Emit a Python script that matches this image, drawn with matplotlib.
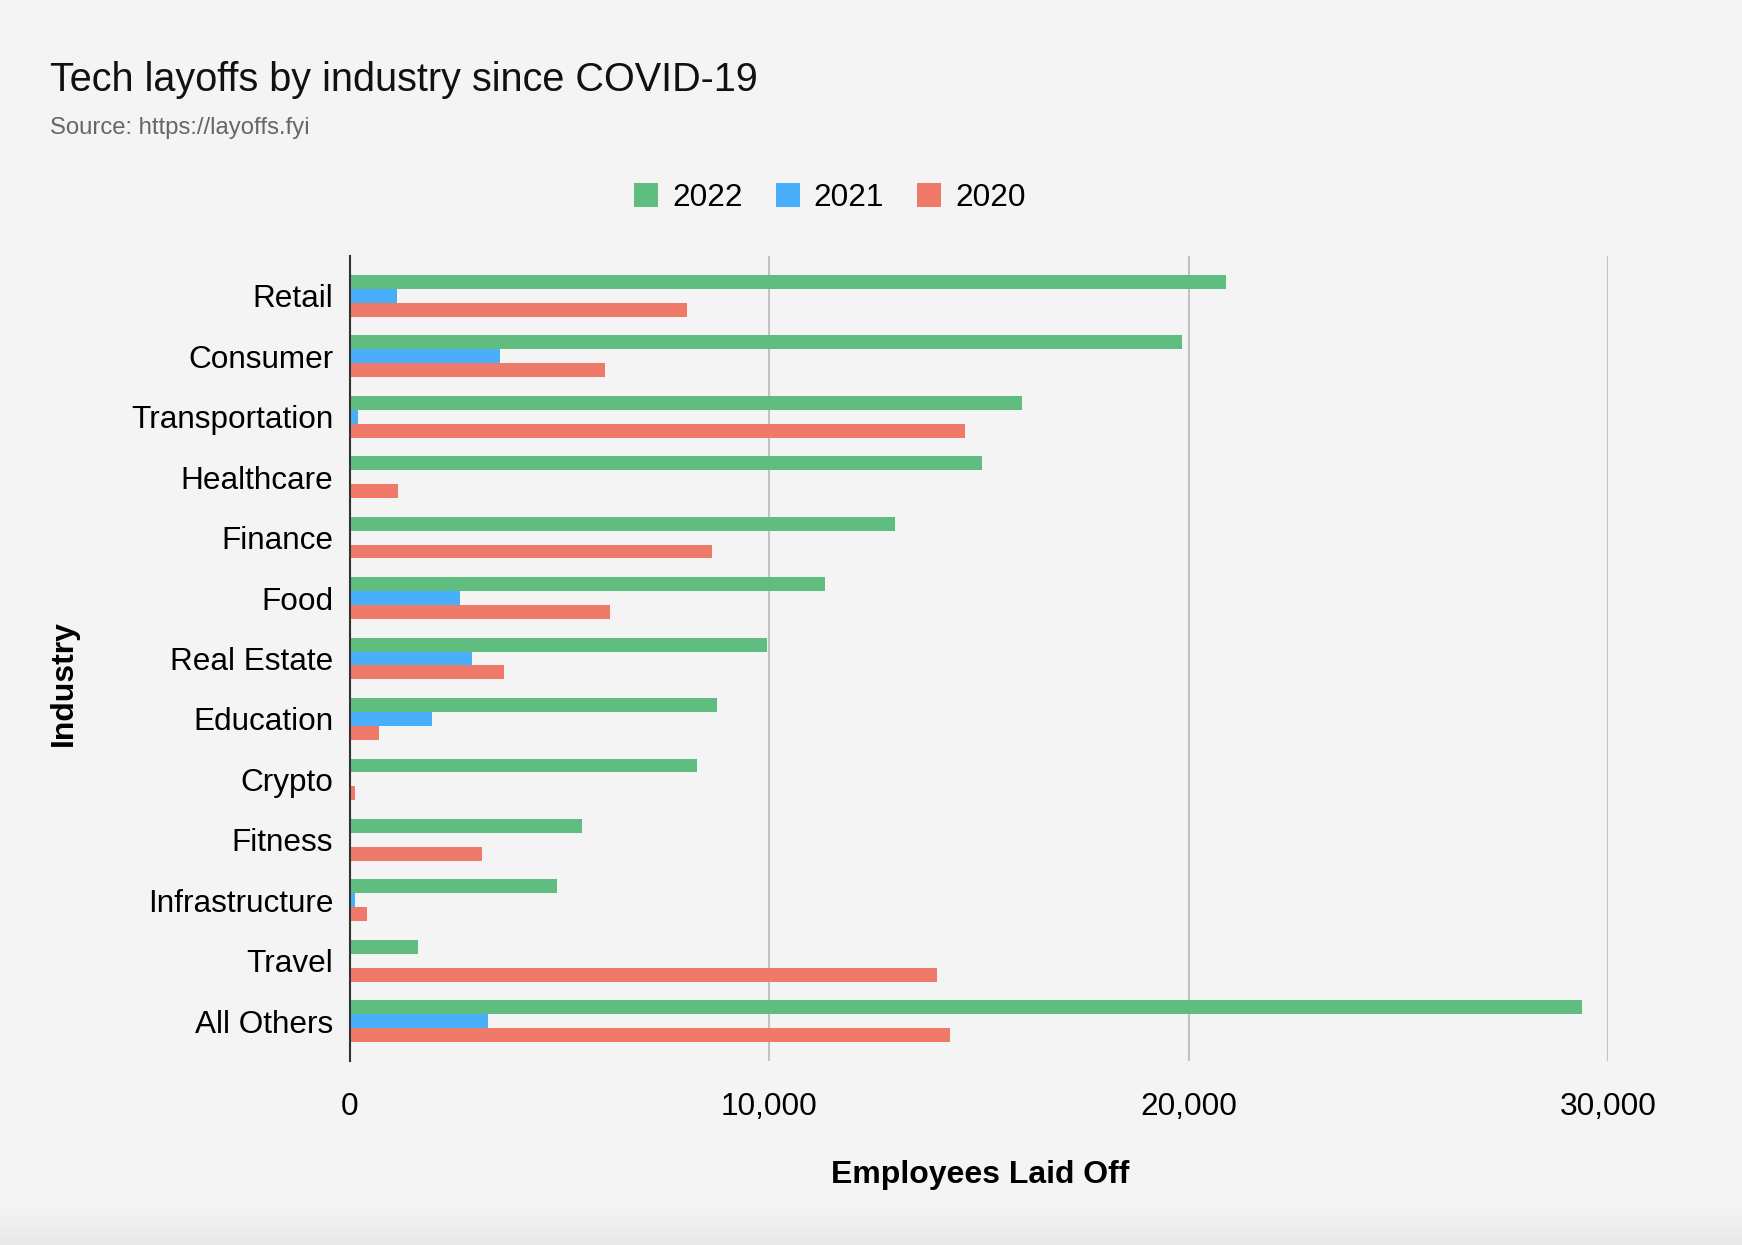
import numpy as np
import matplotlib.pyplot as plt
from matplotlib.patches import Patch
from matplotlib.ticker import FuncFormatter
from matplotlib.colors import LinearSegmentedColormap

plt.rcParams['font.family'] = ['Liberation Sans', 'DejaVu Sans']

# data (employees laid off)
industries = ["Retail", "Consumer", "Transportation", "Healthcare", "Finance", "Food",
              "Real Estate", "Education", "Crypto", "Fitness", "Infrastructure",
              "Travel", "All Others"]
laid_off_2022 = [20900, 19850, 16030, 15080, 12990, 11320, 9940, 8750, 8270, 5540, 4930, 1620, 29390]
laid_off_2021 = [1110, 3580, 190, 0, 0, 2620, 2920, 1960, 0, 0, 130, 0, 3290]
laid_off_2020 = [8030, 6070, 14660, 1140, 8640, 6200, 3680, 690, 110, 3150, 400, 13990, 14310]

years = ["2022", "2021", "2020"]
colors = ["#5fbe7f", "#4aaffa", "#ef7a6a"]
bg = "#f4f4f4"

fig = plt.figure(figsize=(17.42, 12.45), dpi=100, facecolor=bg)
ax = fig.add_axes([0.2009, 0.1478, 0.7222, 0.6466], facecolor=bg)

y = np.arange(len(industries))
h = 0.23
for k, vals in enumerate([laid_off_2022, laid_off_2021, laid_off_2020]):
    ax.barh(y + (k - 1) * h, vals, height=h, color=colors[k], zorder=3)

ax.set_xlim(0, 30000)
ax.set_ylim(len(industries) - 0.34, -0.66)
ax.set_yticks(y)
ax.set_yticklabels(industries, fontsize=22.7)
ax.set_xticks([0, 10000, 20000, 30000])
ax.xaxis.set_major_formatter(FuncFormatter(lambda v, p: f"{int(v):,}"))
ax.tick_params(axis='x', labelsize=22.7, length=0, pad=22)
ax.tick_params(axis='y', length=0, pad=12)

for s in ["top", "right", "bottom"]:
    ax.spines[s].set_visible(False)
ax.spines["left"].set_color("#333333")
ax.spines["left"].set_linewidth(1.5)
ax.spines["left"].set_zorder(4)

ax.grid(axis='x', color="#c2c2c2", linewidth=1.5, zorder=0)
ax.grid(axis='y', visible=False)

fig.text(980 / 1742, 1 - 1175 / 1245, "Employees Laid Off", fontsize=23, fontweight='bold',
         ha='center', va='center')
fig.text(64 / 1742, 1 - 683 / 1245, "Industry", fontsize=23, fontweight='bold',
         ha='center', va='center', rotation=90)

fig.text(50 / 1742, 1 - 80 / 1245, "Tech layoffs by industry since COVID-19", fontsize=28.5,
         ha='left', va='center', color="#111111")
fig.text(50 / 1742, 1 - 128 / 1245, "Source: https://layoffs.fyi", fontsize=17.2,
         ha='left', va='center', color="#666666")

handles = [Patch(facecolor=c, edgecolor='none') for c in colors]
fig.legend(handles, years, loc='center', bbox_to_anchor=(830 / 1742, 1 - 198 / 1245), ncol=3,
           frameon=False, fontsize=22.7, handlelength=0.75, handleheight=0.75,
           handletextpad=0.45, columnspacing=1.05)

# faint shadow band along the bottom edge (light at top, slightly darker at bottom)
shade = LinearSegmentedColormap.from_list("shade", [bg, "#e9e9e9"])
sh = fig.add_axes([0, 0, 1, 40 / 1245])
sh.imshow(np.linspace(0, 1, 50).reshape(-1, 1), cmap=shade, aspect='auto', extent=[0, 1, 0, 1])
sh.axis('off')

fig.savefig("out.png", dpi=100, facecolor=bg)
